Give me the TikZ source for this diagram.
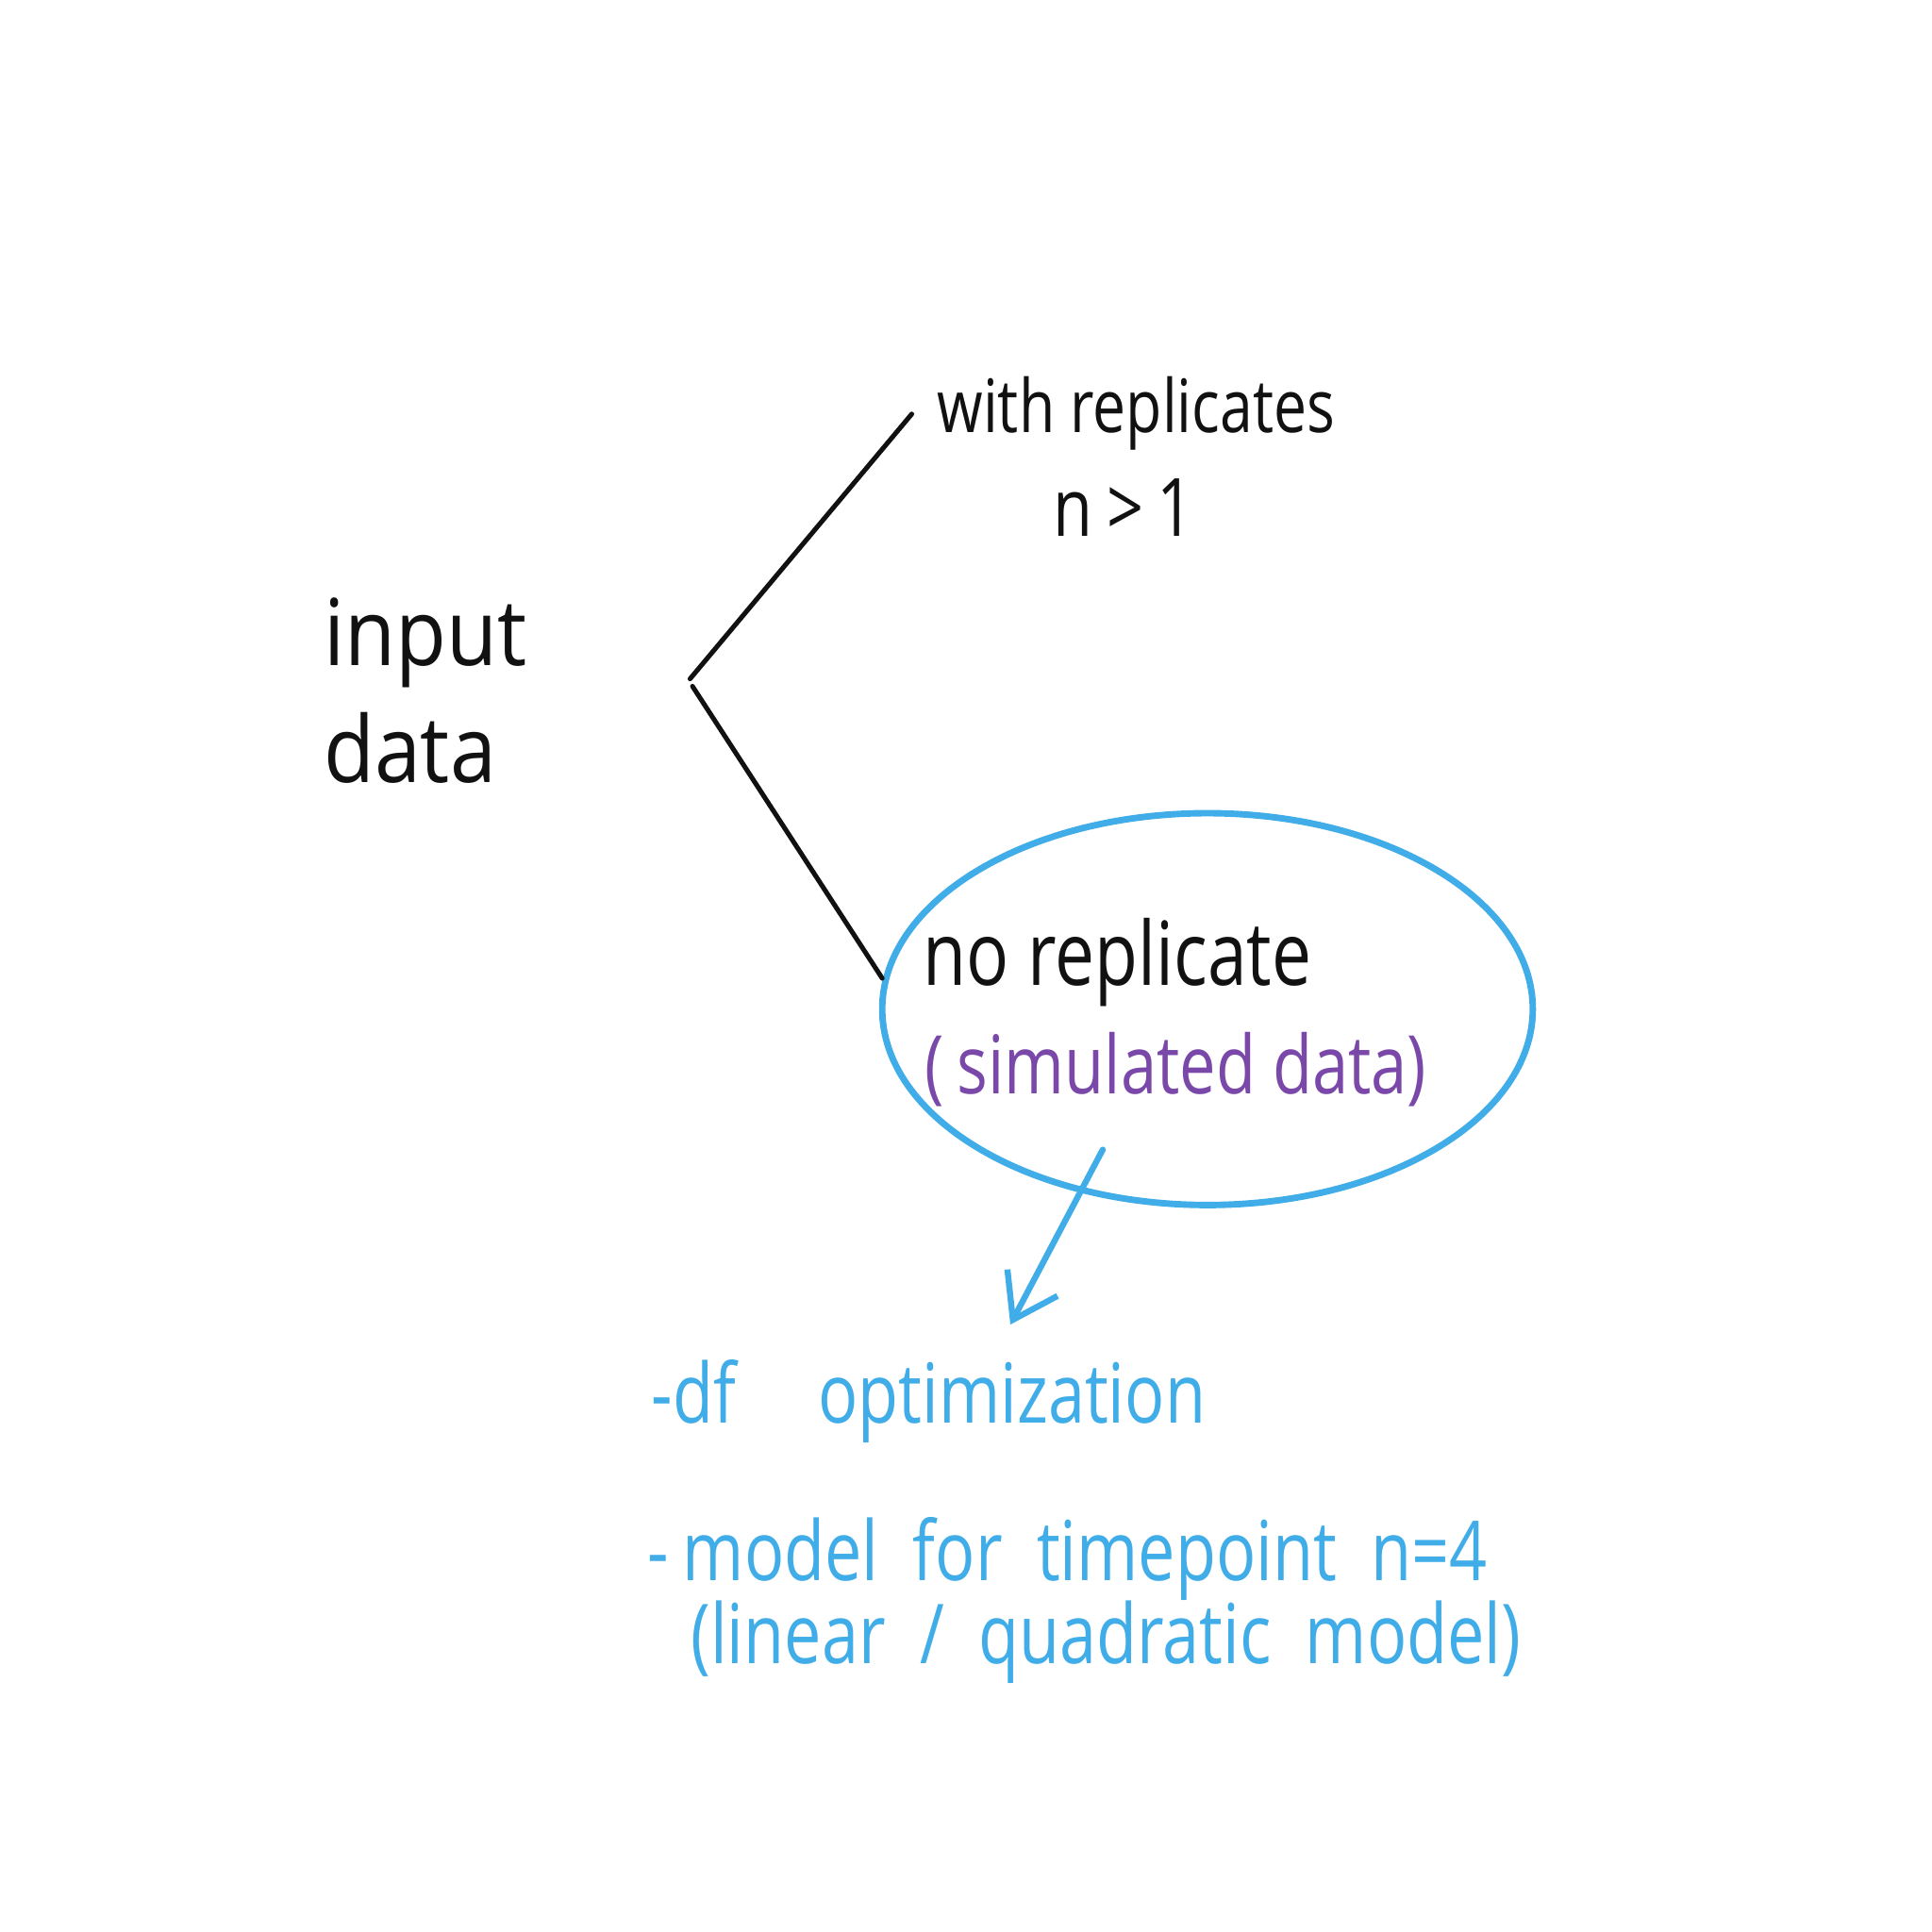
\documentclass[tikz,border=0pt]{standalone}
\usepackage{fontspec}
\usepackage{xcolor}
\usetikzlibrary{arrows.meta, positioning, shapes.geometric}
\newfontfamily\handfont[FakeStretch=0.8]{Open Sans}
\newfontfamily\bighandfont[FakeStretch=0.9]{Open Sans}
\definecolor{pen}{HTML}{111111}
\definecolor{skyink}{HTML}{41ADE8}
\definecolor{plumink}{HTML}{7A48A8}

\begin{document}
\begin{tikzpicture}[
  note/.style={inner sep=0pt, anchor=base, font=\handfont\fontsize{18.6}{22}\selectfont, text=pen},
  bignote/.style={note, font=\bighandfont\fontsize{21.3}{27}\selectfont, align=left},
  bluenote/.style={note, text=skyink, anchor=base west, font=\handfont\fontsize{19.1}{22}\selectfont},
  branch/.style={line width=1.1pt, pen, line cap=round},
  arrow/.style={-{Straight Barb[length=3.4mm, width=4.6mm, line width=1.4pt]}, line width=1.4pt, skyink, line cap=round}
]
  \useasboundingbox (0,0) rectangle (15.68,15.68);

  \node[bignote, anchor=base west] (input) at (2.62,9.33) {input\\data};

  \coordinate (fork) at (5.60,10.17);
  \coordinate (forklow) at (5.62,10.11);
  \coordinate (upend) at (7.40,12.32);
  \coordinate (downend) at (7.16,7.74);

  \node[note, font=\handfont\fontsize{17}{20}\selectfont] (withrep) at (9.22,12.17) {with replicates};
  \node[note] (nbig) at (9.12,11.33) {n\,>\,1};

  \node[draw=skyink, line width=1.5pt, ellipse, minimum width=5.28cm, minimum height=3.18cm] (norep box) at (9.80,7.49) {};
  \node[note, font=\handfont\fontsize{20.4}{25}\selectfont] (norep) at (9.07,7.68) {no replicate};
  \node[note, text=plumink, font=\handfont\fontsize{18.7}{22}\selectfont] (simdata) at (9.54,6.80) {(\,simulated data)};

  \coordinate (arrowstart) at (8.95,6.35);
  \coordinate (arrowend) at (8.20,4.93);

  \node[bluenote] (dfopt) at (5.28,4.13) {-df\quad optimization};
  \node[bluenote] (modeltp) at (5.25,2.85) {-\,model\ \ for\ \ timepoint\ \ n=4};
  \node[bluenote] (linquad) at (5.60,2.18) {(linear\ \ /\ \ quadratic\ \ model)};

  \draw[branch] (fork) -- (upend);
  \draw[branch] (forklow) -- (downend);
  \draw[arrow] (arrowstart) -- (arrowend);
\end{tikzpicture}
\end{document}
